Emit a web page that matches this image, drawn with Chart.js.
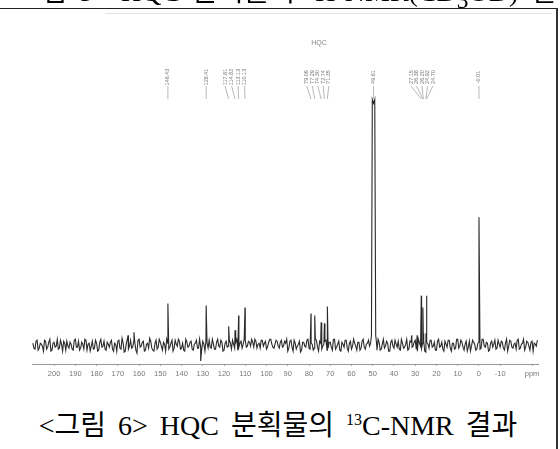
<!DOCTYPE html>
<html>
<head>
<meta charset="utf-8">
<script src="https://cdn.jsdelivr.net/npm/chart.js@4/dist/chart.umd.min.js"></script>
<style>
  body { margin: 0; background: #fff; }
  .page { position: relative; width: 560px; height: 449px; overflow: hidden; background: #fff; }
  #nmr { position: absolute; left: 0; top: 0; }
  .caption {
    position: absolute; left: 0; width: 556px; text-align: center;
    font-family: "Liberation Serif", "Noto Sans CJK KR", serif;
    font-size: 28px; line-height: 30px; color: #000; white-space: nowrap; word-spacing: 5px;
  }
  .caption sup { font-size: 16px; vertical-align: 10px; line-height: 0; }
  .prev { top: -23px; }
  .cur { top: 411px; }
  .rule-top { position: absolute; left: 0; top: 8px; width: 557px; height: 1px; background: #222; }
  .rule-right { position: absolute; left: 556px; top: 8px; width: 2px; height: 441px; background: #333; }
  .scan-edge { position: absolute; left: 105px; top: 13px; width: 447px; height: 1px; background: #e2e2e2; }
</style>
</head>
<body>
<div class="page">
  <canvas id="nmr" width="560" height="400"></canvas>
  <div class="caption prev">&lt;그림 5&gt; HQC 분획물의 <sup>1</sup>H-NMR(CD<sub>3</sub>OD) 결과</div>
  <div class="rule-top"></div>
  <div class="scan-edge"></div>
  <div class="rule-right"></div>
  <div class="caption cur">&lt;그림 6&gt; HQC 분획물의 <sup>13</sup>C-NMR 결과</div>
</div>
<script>
// baseline noise, read at whole ppm from noiseStart downwards
const noiseStart = 210;
const noise = [
  2,-4,5,-3,1,-6,4,-2,6,-5,3,-1,-4,5,-6,2,4,-3,1,-5,
  6,-2,-5,3,-4,5,1,-6,4,-3,2,-5,6,-1,-4,3,-2,5,-6,1,
  4,-3,7,-7,2,-4,5,-2,3,-8,6,-1,4,-5,2,7,-3,-6,5,-2,
  3,-5,1,6,-4,2,-6,5,-1,4,-3,-5,6,-2,3,-4,1,5,-3,-2,
  4,-6,2,5,-3,1,-4,6,-2,3,-5,4,-1,2,5,-3,6,-2,4,1,
  5,-1,3,6,-2,4,1,-3,5,2,-4,3,6,-2,1,4,-3,5,-1,2,
  -6,4,-2,5,-4,1,-7,3,-1,5,-3,2,-5,6,-2,4,-4,1,5,-3,
  3,-5,6,-2,4,-6,1,5,-3,2,-4,6,-1,3,-5,4,-2,1,5,-3,
  4,-2,-5,3,-4,6,-1,2,-6,5,-3,1,4,-5,2,-2,6,-4,3,-1,
  5,-6,2,-3,4,-7,1,5,-2,3,-5,6,-1,-4,4,-2,5,-6,2,-3,
  6,-1,3,-5,4,-2,-6,5,1,-4,3,-3,6,-2,2,-5,4,1,-4,5,
  -2,3,-5,6,-1,4,-3,2,5,-4,1,6,-2,3,-5,4,2,-1
];
// the same baseline read half a ppm further on (209.5, 208.5, ...)
const noiseHalf = [
  -3,4,-5,2,-1,5,-4,3,-6,2,-2,6,-3,1,4,-5,-1,3,-4,5,
  -2,4,-3,1,6,-5,2,-1,-4,5,-6,3,-2,4,-5,1,3,-4,2,-6,
  5,-4,2,-6,6,-1,-3,4,-5,5,-2,3,-6,1,-3,4,-5,2,-4,6,
  -1,3,-6,2,-2,5,-3,1,6,-4,2,-6,3,-1,4,-5,2,-3,6,-4,
  1,5,-3,-2,6,-4,3,-1,5,-6,2,-2,5,-4,1,3,-5,2,-3,6,
  -2,4,-1,3,6,-3,2,5,-1,4,-2,6,1,-3,5,-1,3,-2,4,6,
  -3,5,-6,2,-1,4,-5,3,-2,6,-4,1,-3,5,-6,2,-1,4,-5,3,
  -2,6,-4,1,-5,3,-2,5,-6,4,-1,2,-5,3,-3,6,-4,2,-1,5,
  -4,2,6,-5,1,-3,4,-6,3,-1,5,-2,-4,6,-3,1,-5,4,-2,3,
  -4,6,-1,2,-6,3,-3,5,-1,-5,4,-2,3,-6,1,5,-3,2,-4,6,
  -3,5,-2,1,-6,4,-1,3,-5,2,-4,6,-1,3,-6,2,-2,5,-3,1,
  4,-3,2,-6,5,-2,1,-4,6,-3,2,-5,4,-1,3,-6,1,5
];

// sharp signals (ppm, intensity)
const peakPpm =    [165.2, 162.4, 146.43, 131.0, 128.41, 117.81, 114.82, 113.13, 110.13,
                    79.06, 77.29, 74.30, 72.74, 71.35, 31.6, 29.1, 27.15, 26.38, 26.20, 24.92, 24.70, -0.01];
const peakHeight = [10, 13, 42, -16, 40, 19, 15, 30, 38,
                    32, 30, 23, 22, 39, 10, 10, 50, 38, 12, 12, 50, 129];

// solvent multiplet (CD3OD), two close lines with a broad foot
const solventPpm =    [51.0, 50.6, 50.2, 49.61, 49.05, 48.6, 48.2];
const solventHeight = [2, 10, 248, 244, 248, 10, 2];

// labelled shifts printed above the spectrum
const labelPpm = [146.43, 128.41, 117.81, 114.82, 113.13, 110.13, 79.06, 77.29, 74.30, 72.74, 71.35,
                  49.61, 27.15, 26.38, 26.20, 24.92, 24.70, -0.01];

const axisTicks = [200, 190, 180, 170, 160, 150, 140, 130, 120, 110, 100, 90, 80, 70, 60, 50, 40, 30, 20, 10, 0, -10, -25];

const solventHi = Math.max(...solventPpm);
const solventLo = Math.min(...solventPpm);
const points = [];
noise.forEach((v, i) => points.push({ x: noiseStart - i, y: v }));
noiseHalf.forEach((v, i) => points.push({ x: noiseStart - 0.5 - i, y: v }));
peakPpm.forEach((p, i) => points.push({ x: p, y: peakHeight[i] }));
const trace = points.filter((pt) => pt.x > solventHi || pt.x < solventLo);
solventPpm.forEach((p, i) => trace.push({ x: p, y: solventHeight[i] }));
trace.sort((a, b) => b.x - a.x);

const shiftLabels = {
  id: "shiftLabels",
  afterDraw(chart) {
    const ctx = chart.ctx;
    const xs = chart.scales.x;
    // group close shifts together
    const groups = [];
    labelPpm.forEach((p) => {
      const last = groups[groups.length - 1];
      if (last && last[last.length - 1] - p < 4) last.push(p);
      else groups.push([p]);
    });
    ctx.save();
    ctx.strokeStyle = "#999";
    ctx.fillStyle = "#777";
    ctx.lineWidth = 0.7;
    ctx.font = "5.5px 'Liberation Sans', Arial";
    ctx.textAlign = "center";
    ctx.textBaseline = "middle";
    groups.forEach((g) => {
      const px = g.map((p) => xs.getPixelForValue(p));
      const center = px.reduce((a, b) => a + b, 0) / px.length - (g.length > 1 ? 2 : 0);
      const step = g.length > 4 ? 5.5 : 6.5;
      g.forEach((p, i) => {
        const lx = center + (i - (g.length - 1) / 2) * step;
        ctx.beginPath();
        ctx.moveTo(lx, 86);
        ctx.lineTo(g.length > 1 ? px[i] : lx, 99);
        ctx.stroke();
        ctx.save();
        ctx.translate(lx, 77);
        ctx.rotate(-Math.PI / 2);
        ctx.fillText(p.toFixed(2), 0, 0);
        ctx.restore();
      });
    });
    ctx.font = "7px 'Liberation Sans', Arial";
    ctx.fillStyle = "#888";
    ctx.fillText("HQC", 319, 43);
    ctx.restore();
  }
};

new Chart("nmr", {
  type: "line",
  data: {
    datasets: [{
      data: trace,
      borderColor: "#2a2a2a",
      borderWidth: 1.1,
      pointRadius: 0,
      tension: 0
    }]
  },
  options: {
    responsive: false,
    animation: false,
    layout: { padding: { left: 32, right: 22, top: 40, bottom: 19 } },
    plugins: { legend: { display: false }, tooltip: { enabled: false } },
    scales: {
      x: {
        type: "linear",
        reverse: true,
        min: -27.8,
        max: 210.4,
        afterBuildTicks: (scale) => { scale.ticks = axisTicks.map((v) => ({ value: v })); },
        ticks: {
          autoSkip: false,
          maxRotation: 0,
          padding: 3,
          color: "#777",
          font: { size: 7.5, family: "'Liberation Sans', Arial" },
          callback: (v) => (v === -25 ? "ppm" : v)
        },
        grid: { drawOnChartArea: false, tickLength: 2, color: "#aaa" },
        border: { color: "#999", dash: [1, 1] }
      },
      y: { display: false, min: -19, max: 308 }
    }
  },
  plugins: [shiftLabels]
});
</script>
</body>
</html>
